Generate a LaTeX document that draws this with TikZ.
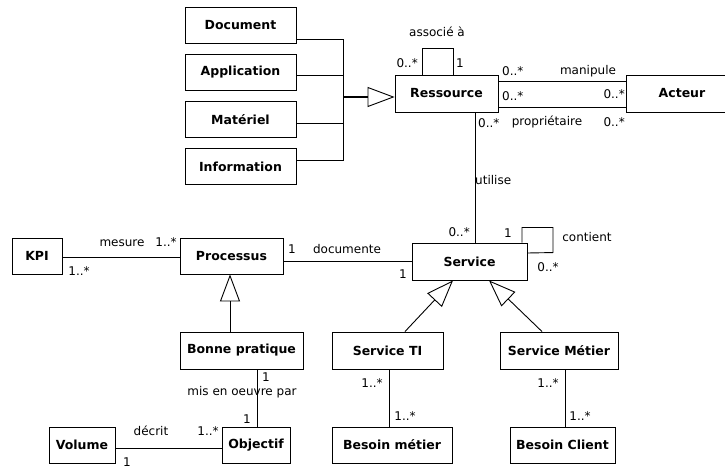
\documentclass[tikz,border=0pt]{standalone}
\usepackage{fontspec}
\setmainfont{DejaVu Sans}
\usetikzlibrary{arrows.meta,calc}
\begin{document}
\begin{tikzpicture}[x=1pt,y=-1pt,
  cls/.style={draw,line width=0.9pt,minimum height=36pt,inner sep=0pt,font=\fontsize{12.5}{14}\selectfont\bfseries},
  conn/.style={line width=0.9pt},
  gen/.style={conn,-{Triangle[open,length=27pt,width=20pt,line width=0.9pt]}},
  lbl/.style={inner sep=0pt,font=\fontsize{12}{14}\selectfont}]
\clip (0,0) rectangle (725,470);
% classes
\node[cls,minimum width=111pt] (doc) at (240.5,25) {Document};
\node[cls,minimum width=111pt] (app) at (240.5,72.5) {Application};
\node[cls,minimum width=111pt] (mat) at (240.5,119.5) {Matériel};
\node[cls,minimum width=111pt] (inf) at (240.5,166.5) {Information};
\node[cls,minimum width=103pt,minimum height=37pt] (res) at (446.5,93.5) {Ressource};
\node[cls,minimum width=112pt,minimum height=37pt] (act) at (682,93.5) {Acteur};
\node[cls,minimum width=115pt,minimum height=37pt] (ser) at (469.5,261.5) {Service};
\node[cls,minimum width=103pt] (pro) at (231.5,256) {Processus};
\node[cls,minimum width=50pt] (kpi) at (37,256) {KPI};
\node[cls,minimum width=123pt,minimum height=37pt] (bon) at (241.5,350.5) {Bonne pratique};
\node[cls,minimum width=111pt,minimum height=37pt] (sti) at (387.5,350.5) {Service TI};
\node[cls,minimum width=118pt,minimum height=37pt] (smt) at (559,350.5) {Service Métier};
\node[cls,minimum width=66pt] (vol) at (82,445) {Volume};
\node[cls,minimum width=68pt] (obj) at (256,445) {Objectif};
\node[cls,minimum width=120pt] (bme) at (392,445) {Besoin métier};
\node[cls,minimum width=105pt] (bcl) at (562.5,445) {Besoin Client};
% anchor coordinates
\coordinate (bar) at (343,97);
\coordinate (cdoc) at ($(doc.east)+(0,14)$);
\coordinate (capp) at ($(app.east)+(0,2.5)$);
\coordinate (cmat) at ($(mat.east)+(0,3.5)$);
\coordinate (cinf) at ($(inf.east)+(0,-6.5)$);
\coordinate (rman) at ($(res.east)+(0,-12.5)$);
\coordinate (rpro) at ($(res.east)+(0,13.5)$);
\coordinate (ruti) at ($(res.south)+(28.5,0)$);
\coordinate (pdoc) at ($(pro.east)+(0,5)$);
\coordinate (kmes) at ($(kpi.east)+(0,1)$);
\coordinate (bgen) at ($(bon.north)+(-11.5,0)$);
\coordinate (omis) at ($(obj.north)+(1,0)$);
\coordinate (vdec) at ($(vol.east)+(0,3)$);
\coordinate (stib) at ($(sti.south)+(1.5,0)$);
\coordinate (smtb) at ($(smt.south)+(6,0)$);
% generalisation to Ressource
\draw[conn] (cdoc) -| (bar);
\draw[conn] (cinf) -| (bar);
\draw[conn] (capp) -- (capp -| bar);
\draw[conn] (cmat) -- (cmat -| bar);
\draw[gen,line width=1.6pt] (bar) -- (bar -| res.west);
% associé à
\draw[conn] ($(res.north)+(-24.5,0)$) -- ++(0,-26) -- ++(31,0) -- ($(res.north)+(6.5,0)$);
\node[lbl,anchor=east] (l1) at (418,63) {0..*};
\node[lbl,anchor=west] (l2) at (456,63) {1};
\node[lbl] (l3) at (437,32) {associé à};
% manipule / propriétaire
\draw[conn] (rman) -- (rman -| act.west);
\draw[conn] (rpro) -- (rpro -| act.west);
\node[lbl,anchor=west] (l4) at (502,71) {0..*};
\node[lbl] (l5) at (588,71) {manipule};
\node[lbl,anchor=west] (l6) at (502,96) {0..*};
\node[lbl,anchor=east] (l7) at (625,94) {0..*};
\node[lbl] (l8) at (547,122) {propriétaire};
\node[lbl,anchor=east] (l9) at (625,122) {0..*};
% utilise
\draw[conn] (ruti) -- (ruti |- ser.north);
\node[lbl,anchor=west] (l10) at (478,123) {0..*};
\node[lbl,anchor=west] (l11) at (475,180) {utilise};
\node[lbl,anchor=east] (l12) at (470,232) {0..*};
% contient
\draw[conn] ($(ser.north)+(52.5,0)$) -- ++(0,-15) -- ++(31,0) -- ++(0,25) -- ($(ser.east)+(0,-8.5)$);
\node[lbl] (l13) at (508,233) {1};
\node[lbl] (l14) at (587,237) {contient};
\node[lbl] (l15) at (548,267) {0..*};
% documente
\draw[conn] (pdoc) -- (pdoc -| ser.west);
\node[lbl] (l16) at (292,249) {1};
\node[lbl] (l17) at (347,249) {documente};
\node[lbl] (l18) at (403,274) {1};
% mesure
\draw[conn] (kmes) -- (kmes -| pro.west);
\node[lbl] (l19) at (122,243) {mesure};
\node[lbl] (l20) at (166,242) {1..*};
\node[lbl] (l21) at (79,271) {1..*};
% generalisation to Processus
\draw[gen] (bgen) -- (bgen |- pro.south);
% mis en oeuvre par
\draw[conn] (omis) -- (omis |- bon.south);
\node[lbl] (l22) at (266,377) {1};
\node[lbl] (l23) at (242,392) {mis en oeuvre par};
\node[lbl] (l24) at (247,419) {1};
% décrit
\draw[conn] (vdec) -- (vdec -| obj.west);
\node[lbl] (l25) at (151,431) {décrit};
\node[lbl] (l26) at (208,431) {1..*};
\node[lbl] (l27) at (127,462) {1};
% generalisations to Service
\draw[gen] ($(sti.north)+(17.5,0)$) -- ($(ser.south)+(-16.5,0)$);
\draw[gen] ($(smt.north)+(-17,0)$) -- ($(ser.south)+(19.5,0)$);
% Service TI / Besoin métier
\draw[conn] (stib) -- (stib |- bme.north);
\node[lbl] (l28) at (372,383) {1..*};
\node[lbl] (l29) at (405,416) {1..*};
% Service Métier / Besoin Client
\draw[conn] (smtb) -- (smtb |- bcl.north);
\node[lbl] (l30) at (548,383) {1..*};
\node[lbl] (l31) at (580,416) {1..*};
\end{tikzpicture}
\end{document}
